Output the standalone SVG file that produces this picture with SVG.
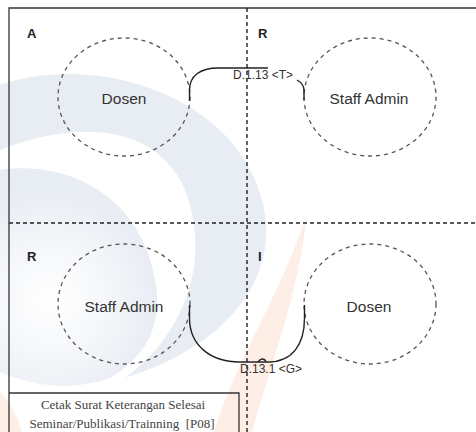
<svg xmlns="http://www.w3.org/2000/svg" width="476" height="432" viewBox="0 0 476 432">
  <style>
    .frame { fill: none; stroke: #333; stroke-width: 1.3; }
    .grid { fill: none; stroke: #222; stroke-width: 1.4; stroke-dasharray: 4 3; }
    .bubble { fill: none; stroke: #555; stroke-width: 1.3; stroke-dasharray: 4 4; }
    .link { fill: none; stroke: #222; stroke-width: 1.4; }
    .role { font-family: "Liberation Sans", Arial, sans-serif; font-size: 13px; font-weight: bold; fill: #222; }
    .name { font-family: "Liberation Sans", Arial, sans-serif; font-size: 15.5px; fill: #333; text-anchor: middle; }
    .code { font-family: "Liberation Sans", Arial, sans-serif; font-size: 12px; fill: #333; text-anchor: middle; }
    .title { font-family: "Liberation Serif", "Times New Roman", serif; font-size: 13px; fill: #444; text-anchor: middle; }
  </style>
  <defs>
    <radialGradient id="disc" cx="50" cy="300" r="110" gradientUnits="userSpaceOnUse">
      <stop offset="0" stop-color="#ffffff"/>
      <stop offset="0.5" stop-color="#f5f7fa"/>
      <stop offset="1" stop-color="#e8ecf3"/>
    </radialGradient>
  </defs>

  <rect width="476" height="432" fill="#ffffff"/>

  <!-- faint background emblem -->
  <g id="emblem">
    <path d="M0,85 C95,52 235,95 262,200 C282,275 230,345 125,378 C190,330 210,255 185,190 C155,120 70,122 0,150 Z" fill="#e8ecf3"/>
    <path d="M0,170 C60,160 140,190 155,280 C165,330 140,360 110,378 C70,392 30,385 0,372 Z" fill="url(#disc)"/>
    <path d="M307,212 C300,290 272,360 252,432 L214,432 C238,355 286,285 307,212 Z" fill="#fdeee6"/>
    <path d="M0,392 C10,402 18,417 22,432 L0,432 Z" fill="#fdeee6"/>
  </g>

  <!-- frame and quadrant dividers -->
  <g id="frame">
    <path class="frame" d="M9,432 V8 H476"/>
    <line class="grid" x1="247" y1="8" x2="247" y2="432"/>
    <line class="grid" x1="9" y1="223" x2="476" y2="223" stroke-dasharray="5 4"/>
  </g>

  <!-- quadrant letters -->
  <g id="quadrant-labels">
    <text class="role" x="27" y="38">A</text>
    <text class="role" x="258" y="38">R</text>
    <text class="role" x="27" y="261">R</text>
    <text class="role" x="258" y="261">I</text>
  </g>

  <g id="node-dosen-a">
    <ellipse class="bubble" cx="124" cy="97" rx="66" ry="59"/>
    <text class="name" x="124" y="104">Dosen</text>
  </g>
  <g id="node-staff-r">
    <ellipse class="bubble" cx="370" cy="97" rx="66" ry="59"/>
    <text class="name" x="369" y="104">Staff Admin</text>
  </g>
  <g id="node-staff-r2">
    <ellipse class="bubble" cx="124" cy="304" rx="66" ry="60"/>
    <text class="name" x="124" y="312">Staff Admin</text>
  </g>
  <g id="node-dosen-i">
    <ellipse class="bubble" cx="370" cy="304" rx="66" ry="60"/>
    <text class="name" x="369" y="312">Dosen</text>
  </g>

  <!-- connectors -->
  <g id="connectors">
    <path class="link" d="M189.5,101 V90 C189.5,76 200,68 218,68 H268"/>
    <path class="link" d="M297,80 Q304,84 304,90 V100"/>
    <path class="link" d="M189.5,305 V318 C189.5,345 210,362 240,362 H268 C292,362 304.5,345 304.5,318 V305"/>
    <path class="link" d="M258,362 Q262,356.5 266,361"/>
    <text class="code" x="263" y="79">D.1.13 &lt;T&gt;</text>
    <text class="code" x="271" y="373">D.13.1 &lt;G&gt;</text>
  </g>

  <!-- process caption -->
  <g id="caption">
    <path class="frame" d="M9,393 H239 V432" stroke-width="1.5"/>
    <text class="title" x="123" y="409">Cetak Surat Keterangan Selesai</text>
    <text class="title" x="122" y="428">Seminar/Publikasi/Trainning&#160; [P08]</text>
  </g>
</svg>
